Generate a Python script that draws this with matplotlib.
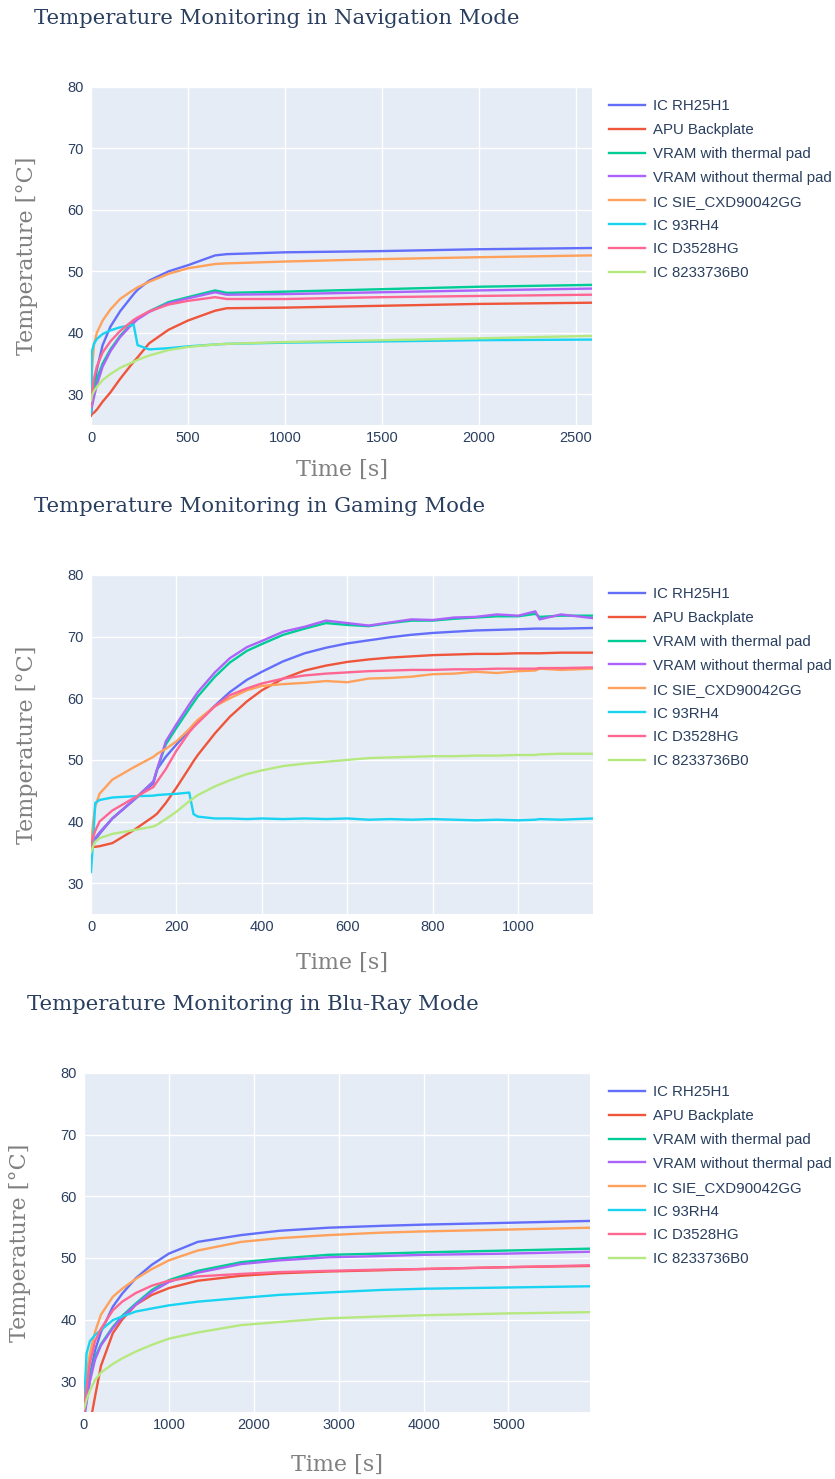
import matplotlib.pyplot as plt

# series names and plotly default colours
names = ['IC RH25H1', 'APU Backplate', 'VRAM with thermal pad', 'VRAM without thermal pad',
         'IC SIE_CXD90042GG', 'IC 93RH4', 'IC D3528HG', 'IC 8233736B0']
colors = ['#636EFA', '#EF553B', '#00CC96', '#AB63FA', '#FFA15A', '#19D3F3', '#FF6692', '#B6E880']

# Navigation mode
nav_t = [0, 5, 15, 30, 60, 100, 150, 200, 220, 240, 300, 400, 500, 640, 700, 1000, 1500, 2000, 2583]
nav_rh25h1 = [27, 28.5, 31, 34, 38, 41, 43.5, 45.5, 46.3, 47, 48.5, 50, 51, 52.6, 52.8, 53.1, 53.3, 53.6, 53.8]
nav_apu = [26.5, 26.8, 27, 27.5, 28.8, 30.3, 32.5, 34.5, 35.3, 36, 38.3, 40.5, 42, 43.6, 44, 44.1, 44.4, 44.7, 44.9]
nav_vram_pad = [27, 28.5, 30.5, 32.5, 35, 37.3, 39.5, 41.2, 41.8, 42.3, 43.5, 45, 45.8, 46.9, 46.5, 46.7, 47.1, 47.5, 47.8]
nav_vram_nopad = [27, 28, 29.5, 31.5, 34.5, 37, 39.3, 41, 41.6, 42.2, 43.4, 44.8, 45.6, 46.6, 46.2, 46.3, 46.6, 46.9, 47.2]
nav_sie = [29, 34, 38, 40, 42, 43.8, 45.5, 46.6, 47, 47.4, 48.3, 49.6, 50.5, 51.2, 51.3, 51.6, 52, 52.3, 52.6]
nav_93rh4 = [27, 37, 38.2, 39, 39.8, 40.4, 40.9, 41.2, 41.3, 38, 37.3, 37.5, 37.8, 38.1, 38.2, 38.4, 38.6, 38.8, 38.9]
nav_d3528 = [28, 30, 32.5, 34.5, 36.8, 38.6, 40.3, 41.6, 42.1, 42.5, 43.5, 44.6, 45.2, 45.8, 45.5, 45.5, 45.8, 46, 46.2]
nav_8233 = [29, 29.8, 30.5, 31.2, 32.3, 33.3, 34.3, 35, 35.3, 35.6, 36.3, 37.2, 37.7, 38.1, 38.2, 38.5, 38.8, 39.1, 39.5]

# Gaming mode
gam_t = [0, 5, 10, 20, 50, 100, 146, 155, 175, 200, 230, 240, 250, 290, 325, 365, 400, 450, 500, 550,
         600, 650, 700, 750, 800, 850, 900, 950, 1000, 1040, 1050, 1100, 1175]
gam_rh25h1 = [35.5, 36.5, 37, 38, 40.5, 43.5, 46.2, 48.5, 50.5, 52.5, 54.8, 55.5, 56.2, 58.8, 61, 63, 64.3, 66, 67.3, 68.2,
              68.9, 69.4, 69.9, 70.3, 70.6, 70.8, 71, 71.1, 71.2, 71.3, 71.3, 71.3, 71.4]
gam_apu = [36, 35.9, 35.9, 36, 36.5, 38.6, 40.8, 41.3, 43, 45.5, 48.7, 49.8, 50.8, 54.3, 57, 59.5, 61.3, 63.2, 64.5, 65.3,
           65.9, 66.3, 66.6, 66.8, 67, 67.1, 67.2, 67.2, 67.3, 67.3, 67.3, 67.4, 67.4]
gam_vram_pad = [36, 36.8, 37.3, 38.2, 40.5, 43.5, 46.5, 48.5, 52.5, 55.2, 58.3, 59.3, 60.3, 63.5, 65.8, 67.7, 68.8, 70.3, 71.3, 72.2,
                71.9, 71.7, 72.2, 72.6, 72.6, 72.9, 73.1, 73.3, 73.3, 73.7, 73.2, 73.4, 73.4]
gam_vram_nopad = [36, 36.8, 37.3, 38.2, 40.5, 43.5, 46.5, 48.5, 53, 55.8, 59, 60, 61, 64.2, 66.5, 68.3, 69.3, 70.8, 71.6, 72.6,
                  72.2, 71.8, 72.3, 72.8, 72.7, 73.1, 73.2, 73.6, 73.4, 74.1, 72.8, 73.6, 73]
gam_sie = [35.5, 40, 42.5, 44.5, 46.8, 48.8, 50.5, 51, 51.8, 53, 55, 55.8, 56.5, 58.7, 60, 61.3, 62, 62.3, 62.5, 62.8,
           62.6, 63.2, 63.3, 63.5, 63.9, 64, 64.3, 64.1, 64.4, 64.5, 64.8, 64.6, 64.8]
gam_93rh4 = [31.8, 37, 43, 43.5, 43.9, 44.1, 44.2, 44.3, 44.4, 44.5, 44.7, 41.2, 40.8, 40.5, 40.5, 40.4, 40.5, 40.4, 40.5, 40.4,
             40.5, 40.3, 40.4, 40.3, 40.4, 40.3, 40.2, 40.3, 40.2, 40.3, 40.4, 40.3, 40.5]
gam_d3528 = [36, 37.5, 38.5, 40, 41.8, 43.8, 45.6, 46.5, 48.5, 51.5, 54.5, 55.3, 56, 58.7, 60.5, 61.6, 62.4, 63.2, 63.7, 64,
             64.2, 64.4, 64.5, 64.6, 64.6, 64.7, 64.7, 64.8, 64.8, 64.8, 64.9, 64.9, 65]
gam_8233 = [35, 36, 36.7, 37.3, 38, 38.6, 39.2, 39.5, 40.4, 41.6, 43.3, 43.8, 44.3, 45.7, 46.7, 47.7, 48.3, 49, 49.4, 49.7,
            50, 50.3, 50.4, 50.5, 50.6, 50.6, 50.7, 50.7, 50.8, 50.8, 50.9, 51, 51]

# Blu-Ray mode
blu_t = [0, 30, 70, 130, 200, 340, 450, 610, 800, 1000, 1340, 1850, 2300, 2877, 3500, 4000, 5000, 5960]
blu_rh25h1 = [25, 27, 31, 35, 38, 42.1, 44.2, 46.7, 48.9, 50.7, 52.6, 53.7, 54.4, 54.9, 55.2, 55.4, 55.7, 56]
blu_apu = [19, 21, 23, 27.5, 32.5, 37.8, 40, 42.4, 44, 45.1, 46.3, 47.1, 47.5, 47.8, 48, 48.2, 48.5, 48.7]
blu_vram_pad = [24, 27, 30.5, 33.9, 36, 38.8, 40.6, 42.6, 44.8, 46.4, 47.9, 49.3, 49.9, 50.5, 50.7, 50.9, 51.2, 51.5]
blu_vram_nopad = [24, 26.5, 30, 33.5, 35.8, 38.6, 40.4, 42.4, 44.5, 46.1, 47.6, 49, 49.6, 50.1, 50.3, 50.5, 50.7, 51]
blu_sie = [27, 31, 34.5, 38, 40.8, 43.7, 45, 46.6, 48.2, 49.6, 51.2, 52.6, 53.2, 53.7, 54.1, 54.3, 54.6, 54.9]
blu_93rh4 = [26, 34.5, 36.5, 37.5, 38.3, 39.9, 40.5, 41.3, 41.8, 42.3, 42.9, 43.5, 44, 44.4, 44.8, 45, 45.2, 45.4]
blu_d3528 = [25, 29, 33, 36.5, 38.5, 41.5, 42.9, 44.3, 45.5, 46.3, 47, 47.4, 47.7, 47.9, 48.1, 48.2, 48.5, 48.8]
blu_8233 = [25.5, 27, 28.5, 30.2, 31.4, 32.8, 33.7, 34.8, 35.9, 36.9, 37.9, 39.1, 39.6, 40.2, 40.5, 40.7, 41, 41.2]

panels = [
    ('Temperature Monitoring in Navigation Mode', nav_t,
     [nav_rh25h1, nav_apu, nav_vram_pad, nav_vram_nopad, nav_sie, nav_93rh4, nav_d3528, nav_8233],
     [0, 500, 1000, 1500, 2000, 2500], (91, 87, 592, 425), 34),
    ('Temperature Monitoring in Gaming Mode', gam_t,
     [gam_rh25h1, gam_apu, gam_vram_pad, gam_vram_nopad, gam_sie, gam_93rh4, gam_d3528, gam_8233],
     [0, 200, 400, 600, 800, 1000], (91, 575, 593, 914), 38),
    ('Temperature Monitoring in Blu-Ray Mode', blu_t,
     [blu_rh25h1, blu_apu, blu_vram_pad, blu_vram_nopad, blu_sie, blu_93rh4, blu_d3528, blu_8233],
     [0, 1000, 2000, 3000, 4000, 5000], (84, 1073, 590, 1412), 42),
]

W, H = 835, 1479
fig = plt.figure(figsize=(W / 100, H / 100), dpi=100)
txt_col = '#2a3f5f'
sans = 'Liberation Sans'

for title, t, series, xticks, (l, top, r, b), xlab_off in panels:
    ax = fig.add_axes([l / W, 1 - b / H, (r - l) / W, (b - top) / H])
    ax.set_facecolor('#E5ECF6')
    for s in ax.spines.values():
        s.set_visible(False)
    for vals, name, c in zip(series, names, colors):
        ax.plot(t, vals, color=c, lw=1.7, label=name, solid_joinstyle='round')
    ax.set_xlim(0, t[-1])
    ax.set_ylim(25, 80)
    ax.set_xticks(xticks)
    ax.set_yticks([30, 40, 50, 60, 70, 80])
    ax.grid(True, color='white', lw=1.0)
    ax.set_axisbelow(True)
    ax.tick_params(length=0, labelsize=10.5, labelcolor=txt_col)
    ax.tick_params(axis='y', pad=5)
    ax.tick_params(axis='x', pad=4)
    for lab in ax.get_xticklabels() + ax.get_yticklabels():
        lab.set_fontfamily(sans)
    ax.set_xlabel('Time [s]', family='DejaVu Serif', fontsize=16, color='#808080')
    ax.set_ylabel('Temperature [°C]', family='DejaVu Serif', fontsize=16, color='#808080')
    ax.xaxis.set_label_coords(0.5, -xlab_off / (b - top))
    ax.yaxis.set_label_coords(-53 / (r - l), 0.5)
    fig.text((l - 57) / W, 1 - (top - 69) / H, title, family='DejaVu Serif', fontsize=15.3,
             color=txt_col, ha='left', va='center')
    ax.legend(loc='upper left', bbox_to_anchor=(609 / W, 1 - (top + 12) / H),
              bbox_transform=fig.transFigure, frameon=False, borderpad=0, borderaxespad=0,
              handlelength=2.4, handletextpad=0.55, labelspacing=0.66,
              prop={'family': sans, 'size': 10.8}, labelcolor=txt_col)

fig.savefig('out.png', dpi=100)
